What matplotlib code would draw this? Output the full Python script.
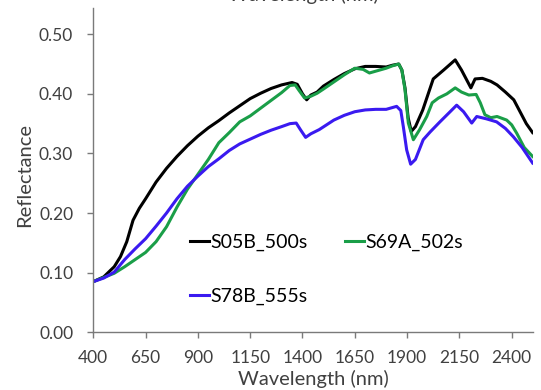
import matplotlib
matplotlib.use('Agg')
import matplotlib.pyplot as plt

# S05B_500s
wl_s05b = [400, 450, 500, 530, 560, 590, 620, 650, 700, 750, 800, 850, 900, 950,
           1000, 1050, 1100, 1150, 1200, 1250, 1300, 1350, 1375, 1400, 1420, 1440,
           1470, 1500, 1550, 1600, 1650, 1700, 1750, 1800, 1830, 1860, 1875, 1890,
           1905, 1920, 1940, 1975, 2025, 2075, 2130, 2160, 2190, 2205, 2225, 2260,
           2300, 2330, 2370, 2410, 2440, 2470, 2500]
r_s05b = [0.085, 0.093, 0.110, 0.127, 0.152, 0.188, 0.208, 0.224, 0.252, 0.275,
          0.295, 0.313, 0.329, 0.343, 0.355, 0.368, 0.380, 0.392, 0.401, 0.409,
          0.415, 0.419, 0.416, 0.400, 0.390, 0.398, 0.403, 0.413, 0.424, 0.434,
          0.442, 0.446, 0.446, 0.445, 0.448, 0.450, 0.440, 0.410, 0.360, 0.337,
          0.345, 0.373, 0.425, 0.440, 0.457, 0.440, 0.420, 0.410, 0.425, 0.426,
          0.421, 0.415, 0.403, 0.390, 0.370, 0.350, 0.335]

# S69A_502s
wl_s69a = [400, 450, 500, 550, 600, 650, 700, 750, 800, 850, 900, 950, 1000, 1050,
           1100, 1150, 1200, 1250, 1300, 1340, 1365, 1385, 1410, 1440, 1470, 1500,
           1550, 1600, 1650, 1690, 1720, 1760, 1800, 1830, 1860, 1875, 1890, 1906,
           1930, 1960, 1994, 2020, 2050, 2090, 2130, 2160, 2195, 2230, 2250, 2272,
           2300, 2330, 2376, 2400, 2424, 2460, 2500]
r_s69a = [0.085, 0.092, 0.099, 0.110, 0.122, 0.134, 0.152, 0.177, 0.210, 0.240,
          0.265, 0.290, 0.318, 0.335, 0.353, 0.363, 0.376, 0.389, 0.402, 0.414,
          0.415, 0.405, 0.393, 0.396, 0.401, 0.408, 0.420, 0.432, 0.443, 0.441,
          0.435, 0.439, 0.443, 0.447, 0.450, 0.440, 0.407, 0.351, 0.323, 0.340,
          0.362, 0.385, 0.393, 0.400, 0.410, 0.403, 0.398, 0.399, 0.385, 0.365,
          0.360, 0.362, 0.356, 0.348, 0.334, 0.310, 0.295]

# S78B_555s
wl_s78b = [400, 450, 500, 550, 600, 650, 700, 750, 800, 850, 900, 950, 1000, 1050,
           1100, 1150, 1200, 1250, 1300, 1340, 1370, 1390, 1415, 1440, 1480, 1550,
           1600, 1650, 1700, 1750, 1800, 1850, 1870, 1882, 1898, 1917, 1940, 1977,
           2010, 2057, 2100, 2137, 2170, 2209, 2233, 2280, 2328, 2370, 2408, 2450,
           2500]
r_s78b = [0.085, 0.091, 0.101, 0.122, 0.140, 0.157, 0.178, 0.200, 0.224, 0.245,
          0.262, 0.278, 0.291, 0.305, 0.316, 0.324, 0.332, 0.339, 0.345, 0.350,
          0.351, 0.340, 0.327, 0.333, 0.340, 0.356, 0.364, 0.370, 0.373, 0.374,
          0.374, 0.379, 0.372, 0.345, 0.306, 0.282, 0.290, 0.323, 0.336, 0.353,
          0.368, 0.381, 0.370, 0.351, 0.362, 0.358, 0.353, 0.342, 0.328, 0.310,
          0.284]

x_ticks = [400, 650, 900, 1150, 1400, 1650, 1900, 2150, 2400]
y_ticks = [0.0, 0.1, 0.2, 0.3, 0.4, 0.5]

plt.rcParams['font.family'] = ['Lato', 'DejaVu Sans']
text_color = '#404040'
axis_color = '#7a7a7a'

fig = plt.figure(figsize=(5.41, 3.9), dpi=100)
ax = fig.add_axes([93.3 / 541, 1 - 332.3 / 390, 439.3 / 541, 324.3 / 390])

l1, = ax.plot(wl_s05b, r_s05b, color='black', lw=2.2, label='S05B_500s')
l2, = ax.plot(wl_s69a, r_s69a, color='#1a9e48', lw=2.2, label='S69A_502s')
l3, = ax.plot(wl_s78b, r_s78b, color='#3a1af0', lw=2.2, label='S78B_555s')

ax.set_xlim(400, 2500)
ax.set_ylim(0, 0.544)
ax.set_xticks(x_ticks)
ax.set_yticks(y_ticks)
ax.set_yticklabels(['%.2f' % v for v in y_ticks])

for s in ['top', 'right']:
    ax.spines[s].set_visible(False)
for s in ['left', 'bottom']:
    ax.spines[s].set_color(axis_color)
    ax.spines[s].set_linewidth(1.0)
ax.tick_params(axis='both', direction='out', length=4.5, width=1,
               color=axis_color, labelcolor=text_color, labelsize=12.5)
ax.tick_params(axis='y', pad=10)
ax.tick_params(axis='x', pad=8)

ax.set_xlabel('Wavelength (nm)', color=text_color, fontsize=14.5, labelpad=3)
fig.text(25 / 541, 1 - 175 / 390, 'Reflectance', rotation=90, ha='center',
         va='center', color=text_color, fontsize=14.5)
# secondary axis title, cut by the top edge as in the source
fig.text(303 / 541, 1 - 0.5 / 390, 'Wavelength (nm)', ha='center', va='baseline',
         color=text_color, fontsize=14.5)

ax.legend(handles=[l1, l3, l2], ncol=2, frameon=False, loc='upper left',
          bbox_to_anchor=(190 / 541, 1 - 234 / 390), bbox_transform=fig.transFigure,
          borderaxespad=0, borderpad=0, handlelength=1.0, handletextpad=0.05,
          columnspacing=1.9, labelspacing=1.9, fontsize=14,
          labelcolor='black')

fig.savefig('out.png', dpi=100)
